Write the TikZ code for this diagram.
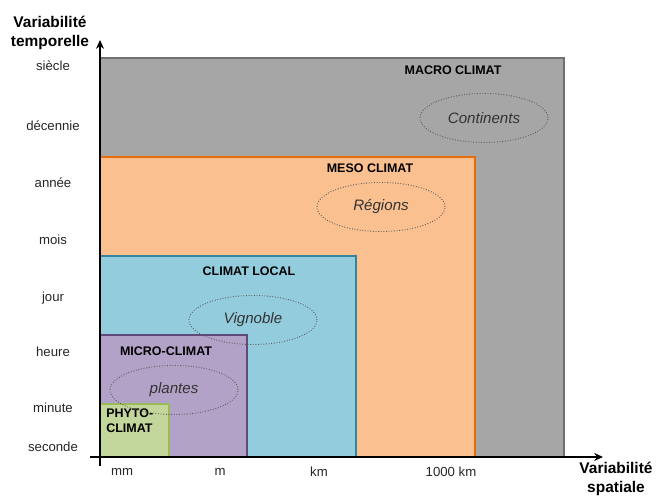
\documentclass[tikz,border=0pt]{standalone}
\usepackage{fontspec}
\setmainfont{Liberation Sans}
\usepackage{tikz}
\usetikzlibrary{shapes.geometric, arrows.meta, positioning}
\definecolor{macrofill}{HTML}{A6A6A6}
\definecolor{macroline}{HTML}{707070}
\definecolor{mesofill}{HTML}{FAC090}
\definecolor{mesoline}{HTML}{E46C0A}
\definecolor{localfill}{HTML}{93CDDD}
\definecolor{localline}{HTML}{31859C}
\definecolor{microfill}{HTML}{B3A2C7}
\definecolor{microline}{HTML}{604A7B}
\definecolor{phytofill}{HTML}{C3D69B}
\definecolor{phytoline}{HTML}{9BBB59}

\begin{document}
\begin{tikzpicture}[
  x=0.02cm, y=0.02cm,
  zone/.style={line width=0.8pt},
  title/.style={font=\fontsize{7.1}{8.4}\selectfont\bfseries, inner sep=0pt},
  axis title/.style={font=\fontsize{8.8}{10.5}\selectfont\bfseries, inner sep=0pt, align=center},
  scale label/.style={font=\fontsize{7.5}{9}\selectfont, text=black!85, inner sep=0pt},
  example/.style={
    ellipse, draw=black!65, densely dotted, line width=0.5pt,
    minimum width=2.56cm, minimum height=0.98cm, inner sep=0pt,
    font=\fontsize{8.6}{10}\selectfont\itshape, text=black!80,
  },
  axis/.style={line width=1.2pt, -{Stealth[length=5pt, width=4.5pt]}},
]
  \useasboundingbox (0,0) rectangle (656,502);

  % Zones
  \draw[zone, fill=macrofill, draw=macroline] (100,45) rectangle (564,444);
  \draw[zone, fill=mesofill, draw=mesoline] (100,45) rectangle (475,345);
  \draw[zone, fill=localfill, draw=localline] (100,45) rectangle (356,246);
  \draw[zone, fill=microfill, draw=microline] (100,45) rectangle (247,167);
  \draw[zone, fill=phytofill, draw=phytoline] (100,45) rectangle (169,98);

  % Zone titles
  \node[title] (macro) at (453,432) {MACRO CLIMAT};
  \node[title] (meso) at (370,334) {MESO CLIMAT};
  \node[title] (local) at (249,231) {CLIMAT LOCAL};
  \node[title] (micro) at (166,151) {MICRO-CLIMAT};
  \node[title, align=left, anchor=west] (phyto) at (106,81) {PHYTO-\\CLIMAT};

  % Examples
  \node[example] (continents) at (484,384) {Continents};
  \node[example] (regions) at (381,295) {Régions};
  \node[example] (vignoble) at (253,182) {Vignoble};
  \node[example] (plantes) at (174,112) {plantes};

  % Axes
  \coordinate (ystart) at (100,36);
  \coordinate (yend) at (100,462);
  \coordinate (xstart) at (90,45);
  \coordinate (xend) at (603,45);
  \draw[axis] (ystart) -- (yend);
  \draw[axis] (xstart) -- (xend);
  \node[axis title] (ytitle) at (50,469) {Variabilité\\temporelle};
  \node[axis title] (xtitle) at (616,23) {Variabilité\\spatiale};

  % Time scale
  \node[scale label] (siecle) at (53,436) {siècle};
  \node[scale label] (decennie) at (53,376) {décennie};
  \node[scale label] (annee) at (53,319) {année};
  \node[scale label] (mois) at (53,262) {mois};
  \node[scale label] (jour) at (53,204) {jour};
  \node[scale label] (heure) at (53,150) {heure};
  \node[scale label] (minute) at (53,94) {minute};
  \node[scale label] (seconde) at (53,55) {seconde};

  % Space scale
  \node[scale label] (mm) at (122,30) {mm};
  \node[scale label] (m) at (220,30) {m};
  \node[scale label] (km) at (319,30) {km};
  \node[scale label] (kkm) at (451,30) {1000 km};
\end{tikzpicture}
\end{document}
